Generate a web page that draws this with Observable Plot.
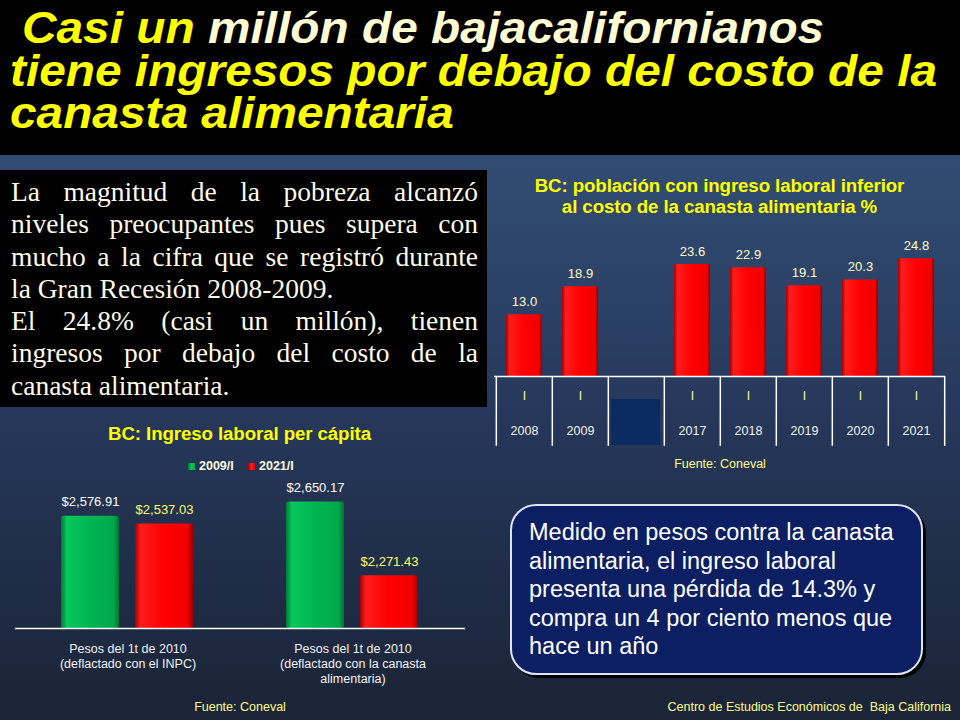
<!DOCTYPE html>
<html><head><meta charset="utf-8">
<script src="https://cdn.jsdelivr.net/npm/d3@7"></script>
<script src="https://cdn.jsdelivr.net/npm/@observablehq/plot@0.6"></script>
<style>
html,body{margin:0;padding:0;background:#1b2436;}
#slide{position:relative;width:960px;height:720px;overflow:hidden;
  background:linear-gradient(to bottom,#37527c 0%,#30496f 28%,#27395d 55%,#1f2d47 80%,#1b2436 100%);
  font-family:"Liberation Sans",Arial,sans-serif;}
.abs{position:absolute;white-space:nowrap;}
.c{transform:translate(-50%,-50%);}
#titlebox{position:absolute;left:0;top:0;width:960px;height:155px;background:#000;}
.tl{position:absolute;font:italic bold 44px/40px "Liberation Sans",Arial,sans-serif;color:#ffff00;transform-origin:0 0;white-space:nowrap;}
.cream{color:#fffbd2;}
#para{position:absolute;left:0;top:170px;width:487px;height:237px;background:#000;}
#paratext{position:absolute;left:11px;top:6px;width:467px;}
.pl{width:467px;height:32.3px;font:27.5px/32.3px "Liberation Serif","Times New Roman",serif;color:#fffbe6;white-space:nowrap;overflow:visible;}
.j{text-align:justify;text-align-last:justify;white-space:normal;}
.ptitle{font-weight:bold;font-size:18.7px;color:#ffff00;letter-spacing:-0.1px;}
.src{font-size:12.5px;color:#ffff88;}
#note{position:absolute;left:510px;top:504px;width:409px;height:167px;border:2px solid #dde4f4;border-radius:26px;
  background:#0b1f62;box-shadow:3px 3px 0 #000;}
#notetext{position:absolute;left:529px;top:518px;font-size:23.5px;line-height:28.5px;color:#ffffff;white-space:nowrap;}
.leg{position:absolute;top:459px;height:14px;display:flex;align-items:center;font-weight:bold;font-size:12.5px;color:#fffbe0;}
.sw{display:inline-block;width:7px;height:7px;margin-right:4px;}
#chart1{position:absolute;left:488px;top:220px;}
#chart2{position:absolute;left:0;top:470px;}
</style></head>
<body>
<svg width="0" height="0" style="position:absolute">
  <defs>
    <linearGradient id="gRed" x1="0" x2="1" y1="0" y2="0">
      <stop offset="0" stop-color="#a30000"/><stop offset="0.1" stop-color="#ff1c1c"/>
      <stop offset="0.5" stop-color="#ff0000"/><stop offset="0.9" stop-color="#f20000"/>
      <stop offset="1" stop-color="#9a0000"/>
    </linearGradient>
    <linearGradient id="gGreen" x1="0" x2="1" y1="0" y2="0">
      <stop offset="0" stop-color="#007a36"/><stop offset="0.1" stop-color="#08c85c"/>
      <stop offset="0.5" stop-color="#00b552"/><stop offset="0.9" stop-color="#00a84b"/>
      <stop offset="1" stop-color="#007434"/>
    </linearGradient>
  </defs>
</svg>
<div id="slide">
  <div id="titlebox">
    <div class="tl" id="t1" style="left:22px;top:8px;">Casi un <span class="cream">millón de bajacalifornianos</span></div>
    <div class="tl" id="t2" style="left:10px;top:51px;">tiene ingresos por debajo del costo de la</div>
    <div class="tl" id="t3" style="left:10px;top:93px;">canasta alimentaria</div>
  </div>
  <div id="para"><div id="paratext">
    <div class="pl j">La magnitud de la pobreza alcanzó</div>
    <div class="pl j">niveles preocupantes pues supera con</div>
    <div class="pl j">mucho a la cifra que se registró durante</div>
    <div class="pl">la Gran Recesión 2008-2009.</div>
    <div class="pl j">El 24.8% (casi un millón), tienen</div>
    <div class="pl j">ingresos por debajo del costo de la</div>
    <div class="pl">canasta alimentaria.</div>
  </div></div>

  <div class="abs c ptitle" style="left:719.5px;top:186px;">BC: población con ingreso laboral inferior</div>
  <div class="abs c ptitle" style="left:719.5px;top:207px;">al costo de la canasta alimentaria %</div>
  <div id="chart1"></div>
  <div class="abs c src" style="left:720px;top:464px;">Fuente: Coneval</div>

  <div class="abs c ptitle" style="left:239.5px;top:434px;">BC: Ingreso laboral per cápita</div>
  <div id="legend"></div>
  <div id="chart2"></div>
  <div class="abs c src" style="left:240px;top:707px;">Fuente: Coneval</div>

  <div id="note"></div>
  <div id="notetext">Medido en pesos contra la canasta<br>alimentaria, el ingreso laboral<br>presenta una pérdida de 14.3% y<br>compra un 4 por ciento menos que<br>hace un año</div>
  <div class="abs src" style="right:9px;top:700px;">Centro de Estudios Económicos de&nbsp; Baja California</div>
</div>
<script>
// ---- Data: share of population with labour income below food basket cost (%)
const shareYears = ["2008", "2009", "", "2017", "2018", "2019", "2020", "2021"];
const shareQuarters = ["I", "I", "", "I", "I", "I", "I", "I"];
const shareValues = [13.0, 18.9, null, 23.6, 22.9, 19.1, 20.3, 24.8];

// ---- Data: labour income per capita
const incomeGroups = [
  "Pesos del 1t de 2010\n(deflactado con el INPC)",
  "Pesos del 1t de 2010\n(deflactado con la canasta\nalimentaria)"
];
const incomeSeries = ["2009/I", "2021/I"];
const income2009 = [2576.91, 2650.17];
const income2021 = [2537.03, 2271.43];
const seriesFills = ["url(#gGreen)", "url(#gRed)"];
const seriesSwatch = ["linear-gradient(90deg,#007a36,#08c85c,#00a84b)", "linear-gradient(90deg,#a30000,#ff1c1c,#e00000)"];
const seriesLabelColors = ["#ffffff", "#ffff66"];

const font = "Liberation Sans, Arial, sans-serif";

// ---- Title scaling to the slide width
(function(){
  const t2 = document.getElementById("t2");
  const w = t2.getBoundingClientRect().width;
  const s = 927 / w;
  for (const id of ["t1","t2","t3"]) document.getElementById(id).style.transform = `scale(${s},1)`;
})();

// ---- Chart 1
const shareRows = shareYears.map((year, i) => ({year, quarter: shareQuarters[i], value: shareValues[i]}));
const valued = shareRows.filter(d => d.value != null);
const W1 = 470, H1 = 250, ML1 = 6, MR1 = 13;
const stepX = (W1 - ML1 - MR1) / shareYears.length;
const tableDepth = -14.7;
const chart1 = Plot.plot({
  width: W1, height: H1, marginLeft: ML1, marginRight: MR1, marginTop: 32.5, marginBottom: 94,
  x: {domain: shareYears, padding: 0, axis: null},
  y: {domain: [0, 26], axis: null},
  style: {background: "none", overflow: "visible", fontFamily: font},
  marks: [
    Plot.barY(valued, {x: "year", y: "value", fill: "url(#gRed)", insetLeft: 10, insetRight: 10, rx: 2}),
    Plot.barY([""], {x: d => d, y1: -4.85, y2: -14.5, fill: "#0b2c63", insetLeft: 3, insetRight: 4}),
    Plot.ruleY([0], {stroke: "#ffffff", strokeWidth: 1.5}),
    Plot.ruleX(shareYears, {x: d => d, y1: 0, y2: tableDepth, dx: -stepX / 2, stroke: "#ffffff", strokeWidth: 1.5}),
    Plot.ruleX(shareYears.slice(-1), {x: d => d, y1: 0, y2: tableDepth, dx: stepX / 2, stroke: "#ffffff", strokeWidth: 1.5}),
    Plot.text(valued, {x: "year", y: "value", text: d => d.value.toFixed(1), dy: -13, fill: "#ffffcc", fontSize: 13}),
    Plot.text(shareRows.filter(d => d.quarter), {x: "year", text: "quarter", frameAnchor: "bottom", dy: 23, fill: "#ffff99", fontSize: 12}),
    Plot.text(shareRows.filter(d => d.year), {x: "year", text: "year", frameAnchor: "bottom", dy: 58, fill: "#f4f4ea", fontSize: 12.5})
  ]
});
document.getElementById("chart1").append(chart1);

// ---- Chart 2
const incomeRows = incomeGroups.flatMap((g, i) => [
  {group: g, series: incomeSeries[0], value: income2009[i]},
  {group: g, series: incomeSeries[1], value: income2021[i]}
]);
const yBase = 2000;
const fmt = d3.format(",.2f");
const chart2 = Plot.plot({
  width: 480, height: 220, marginLeft: 14, marginRight: 15, marginTop: 21.8, marginBottom: 62,
  fx: {domain: incomeGroups, padding: 0, axis: null},
  x: {domain: incomeSeries, paddingInner: 0.213, paddingOuter: 0.61, axis: null},
  y: {domain: [yBase, 2700], axis: null},
  style: {background: "none", overflow: "visible", fontFamily: font},
  marks: [
    ...incomeSeries.map((s, k) => Plot.barY(incomeRows.filter(d => d.series === s),
      {fx: "group", x: "series", y1: yBase, y2: "value", fill: seriesFills[k], rx: 2})),
    Plot.ruleY([yBase], {stroke: "#ffffff", strokeWidth: 1.5}),
    ...incomeSeries.map((s, k) => Plot.text(incomeRows.filter(d => d.series === s),
      {fx: "group", x: "series", y: "value", text: d => "$" + fmt(d.value), dy: -14, fill: seriesLabelColors[k], fontSize: 13})),
    Plot.text(incomeGroups, {fx: d => d, text: d => d, frameAnchor: "bottom", lineAnchor: "top", dy: 13.5,
      fill: "#f2f2f2", fontSize: 12.5, lineHeight: 1.2})
  ]
});
document.getElementById("chart2").append(chart2);

// ---- Legend
const legendX = [188, 248];
incomeSeries.forEach((s, k) => {
  const el = document.createElement("div");
  el.className = "leg";
  el.style.left = legendX[k] + "px";
  el.innerHTML = `<span class="sw" style="background:${seriesSwatch[k]}"></span>${s}`;
  document.getElementById("legend").append(el);
});
</script>
</body></html>
